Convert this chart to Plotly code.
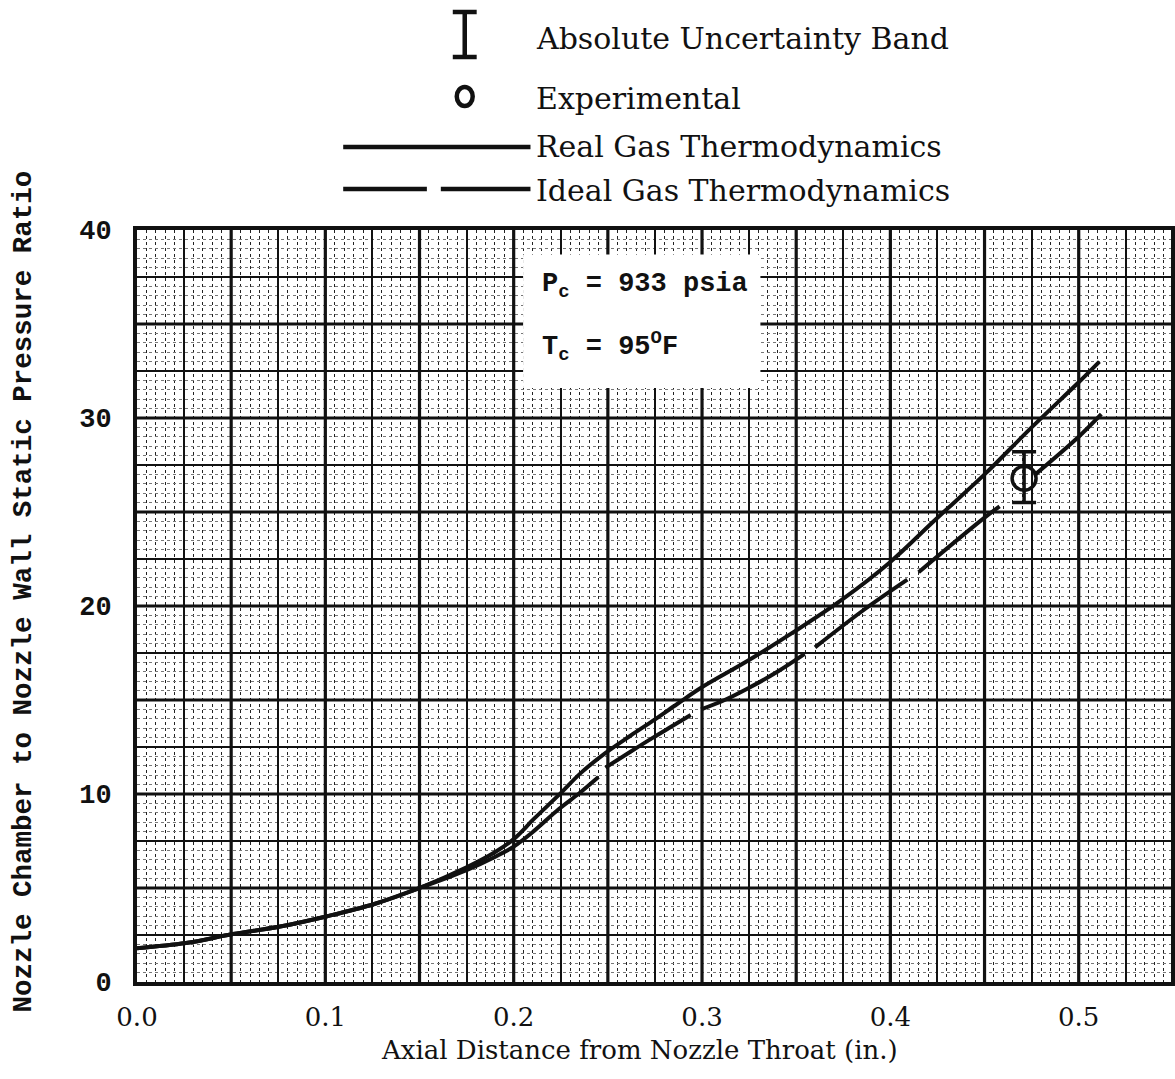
import numpy as np
import plotly.graph_objects as go

# ---- data -------------------------------------------------------------
# Real gas thermodynamics (solid curve)
real_x = [0.000, 0.026, 0.051, 0.076, 0.101, 0.126, 0.150, 0.175, 0.190, 0.200,
          0.211, 0.224, 0.236, 0.249, 0.262, 0.274, 0.287, 0.2995, 0.3245, 0.350,
          0.3745, 0.3995, 0.424, 0.450, 0.475, 0.500, 0.511]
real_y = [1.8, 2.07, 2.55, 2.95, 3.5, 4.15, 5.0, 6.1, 6.9, 7.6,
          8.7, 9.95, 11.15, 12.2, 13.1, 13.9, 14.8, 15.65, 17.1, 18.7,
          20.35, 22.3, 24.6, 27.0, 29.5, 31.9, 33.0]

# Ideal gas thermodynamics (long-dash curve); None marks a break between dashes
ideal_x = [0.000, 0.026, 0.051, 0.076, 0.101, 0.126, 0.150, 0.175, 0.190, 0.200,
           0.211, 0.224, 0.235, 0.245, None,
           0.2487, 0.262, 0.274, 0.284, 0.294, None,
           0.2995, 0.312, 0.324, 0.340, 0.3545, None,
           0.360, 0.386, 0.409, None,
           0.415, 0.450, 0.458, None,
           0.477, 0.500, 0.512]
ideal_y = [1.8, 2.07, 2.55, 2.95, 3.5, 4.15, 5.0, 5.95, 6.65, 7.2,
           8.05, 9.2, 10.05, 10.9, None,
           11.4, 12.25, 13.0, 13.6, 14.2, None,
           14.5, 15.0, 15.6, 16.5, 17.45, None,
           17.8, 19.8, 21.4, None,
           21.8, 24.7, 25.3, None,
           27.0, 29.0, 30.2]

# Experimental point with absolute uncertainty band
exp_x = [0.471]
exp_y = [26.8]
exp_err_plus = [1.4]
exp_err_minus = [1.3]

x_ticks = [0.0, 0.1, 0.2, 0.3, 0.4, 0.5]
y_ticks = [0, 10, 20, 30, 40]

# ---- geometry -----------------------------------------------------------
W, H = 1175, 1079
ML, MR, MT, MB = 137, 0, 230, 97
XMAX, YMAX = 0.549, 40

def px(xp):
    return (xp - ML) / (W - ML - MR)

def py(yp):
    return (H - MB - yp) / (H - MT - MB)

SERIF = "DejaVu Serif"
MONO = "Liberation Mono"
INK = "#111111"

fig = go.Figure()

fig.add_trace(go.Scatter(
    x=real_x, y=real_y, mode="lines",
    line=dict(color=INK, width=4, shape="spline", smoothing=1.0),
    showlegend=False, hoverinfo="skip"))

fig.add_trace(go.Scatter(
    x=ideal_x, y=ideal_y, mode="lines", connectgaps=False,
    line=dict(color=INK, width=4, shape="spline", smoothing=1.0),
    showlegend=False, hoverinfo="skip"))

fig.add_trace(go.Scatter(
    x=exp_x, y=exp_y, mode="markers",
    marker=dict(symbol="circle-open", size=24, color=INK, line=dict(width=3.5, color=INK)),
    error_y=dict(type="data", symmetric=False, array=exp_err_plus,
                 arrayminus=exp_err_minus, color=INK, thickness=3.5, width=12),
    showlegend=False, hoverinfo="skip"))

# ---- grid -----------------------------------------------------------------
x_grid = np.round(np.arange(0, XMAX + 1e-9, 0.025), 4)
y_grid = np.arange(0, YMAX + 1e-9, 2.5)
x_text = [f"{v:.1f}" if any(abs(v - t) < 1e-9 for t in x_ticks) else "" for v in x_grid]
y_text = [f"{v:g}" if any(abs(v - t) < 1e-9 for t in y_ticks) else "" for v in y_grid]

shapes = []
for v in np.arange(0.05, XMAX, 0.05):
    shapes.append(dict(type="line", xref="x", yref="y", x0=v, x1=v, y0=0, y1=YMAX,
                       line=dict(color=INK, width=3.2), layer="between"))
for v in np.arange(5, YMAX, 5):
    shapes.append(dict(type="line", xref="x", yref="y", x0=0, x1=XMAX, y0=v, y1=v,
                       line=dict(color=INK, width=3.2), layer="between"))

# white panel behind the chamber conditions
shapes.append(dict(type="rect", xref="x", yref="y", x0=0.205, x1=0.331, y0=31.6, y1=38.7,
                   fillcolor="white", line=dict(width=0), layer="above"))

# ---- legend drawn above the frame ------------------------------------------
lx = 466
shapes += [
    dict(type="line", xref="paper", yref="paper", x0=px(lx), x1=px(lx), y0=py(12), y1=py(57),
         line=dict(color=INK, width=4.5)),
    dict(type="line", xref="paper", yref="paper", x0=px(lx - 12), x1=px(lx + 12), y0=py(12), y1=py(12),
         line=dict(color=INK, width=4.5)),
    dict(type="line", xref="paper", yref="paper", x0=px(lx - 12), x1=px(lx + 12), y0=py(57), y1=py(57),
         line=dict(color=INK, width=4.5)),
    dict(type="circle", xref="paper", yref="paper", x0=px(lx - 8), x1=px(lx + 8), y0=py(87), y1=py(106),
         line=dict(color=INK, width=4.5)),
    dict(type="line", xref="paper", yref="paper", x0=px(344), x1=px(532), y0=py(147), y1=py(147),
         line=dict(color=INK, width=4.5)),
    dict(type="line", xref="paper", yref="paper", x0=px(344), x1=px(428), y0=py(189), y1=py(189),
         line=dict(color=INK, width=4.5)),
    dict(type="line", xref="paper", yref="paper", x0=px(442), x1=px(532), y0=py(189), y1=py(189),
         line=dict(color=INK, width=4.5)),
]

legend_rows = [
    ("Absolute Uncertainty Band", 38),
    ("Experimental", 98),
    ("Real Gas Thermodynamics", 146),
    ("Ideal Gas Thermodynamics", 190),
]
annotations = []
for label, yp in legend_rows:
    annotations.append(dict(text=label, xref="paper", yref="paper", x=px(536), y=py(yp),
                            xanchor="left", yanchor="middle", showarrow=False,
                            font=dict(family=SERIF, size=30, color=INK)))

# chamber conditions
annotations.append(dict(text="<b>P<sub>c</sub> = 933 psia</b>", xref="x", yref="y",
                        x=(541 - ML) / 1890, y=37.0, xanchor="left", yanchor="middle",
                        showarrow=False, font=dict(family=MONO, size=27, color=INK)))
annotations.append(dict(text="<b>T<sub>c</sub> = 95<sup>O</sup>F</b>", xref="x", yref="y",
                        x=(541 - ML) / 1890, y=33.8, xanchor="left", yanchor="middle",
                        showarrow=False, font=dict(family=MONO, size=27, color=INK)))

# axis titles
annotations.append(dict(text="Axial Distance from Nozzle Throat (in.)", xref="paper", yref="paper",
                        x=px(641), y=py(1050), xanchor="center", yanchor="middle", showarrow=False,
                        font=dict(family=SERIF, size=26, color=INK)))
annotations.append(dict(text="<b>Nozzle Chamber to Nozzle Wall Static Pressure Ratio</b>",
                        xref="paper", yref="paper", x=px(23), y=py(591), textangle=-90,
                        xanchor="center", yanchor="middle", showarrow=False,
                        font=dict(family=MONO, size=27.5, color=INK)))

fig.update_layout(
    width=W, height=H,
    margin=dict(l=ML, r=MR, t=MT, b=MB, pad=0),
    paper_bgcolor="white", plot_bgcolor="white",
    shapes=shapes, annotations=annotations,
    xaxis=dict(range=[0, XMAX], tickmode="array", tickvals=x_grid, ticktext=x_text,
               showgrid=True, gridcolor=INK, gridwidth=1.8, zeroline=False,
               showline=True, linecolor=INK, linewidth=4, mirror=True,
               ticks="", ticklabelstandoff=9,
               tickfont=dict(family=SERIF, size=26, color=INK),
               minor=dict(tickmode="linear", tick0=0, dtick=0.005, showgrid=True,
                          gridcolor="#222222", gridwidth=1.4, griddash="dot")),
    yaxis=dict(range=[0, YMAX], tickmode="array", tickvals=y_grid, ticktext=y_text,
               showgrid=True, gridcolor=INK, gridwidth=1.8, zeroline=False,
               showline=True, linecolor=INK, linewidth=4, mirror=True,
               ticks="", ticklabelstandoff=16,
               tickfont=dict(family=MONO, size=27, color=INK, weight="bold"),
               minor=dict(tickmode="linear", tick0=0, dtick=0.5, showgrid=True,
                          gridcolor="#777777", gridwidth=1, griddash="dot")),
)

fig.write_html("out.html", config={"displayModeBar": False})
